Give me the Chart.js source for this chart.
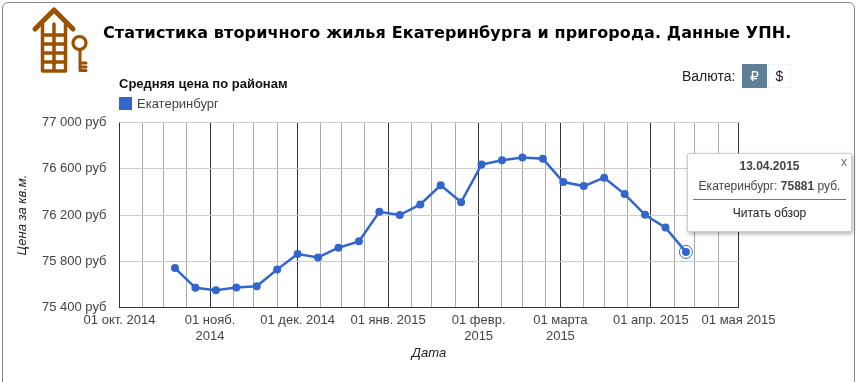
<!DOCTYPE html>
<html>
<head>
<meta charset="utf-8">
<title>Статистика вторичного жилья</title>
<script src="https://cdn.jsdelivr.net/npm/chart.js@4"></script>
<style>
  html, body { margin: 0; padding: 0; background: #fff; }
  body { width: 858px; height: 382px; overflow: hidden; position: relative; font-family: "Liberation Sans", Arial, sans-serif; }
  .frame { position: absolute; left: 2px; top: 2px; width: 851px; height: 420px; border: 1px solid #888; border-radius: 6px; }
  canvas { position: absolute; left: 0; top: 0; }
  .abs { position: absolute; white-space: nowrap; }
  #logo { left: 30px; top: 5px; }
  #mainTitle { left: 103px; top: 23px; font: bold 16px "DejaVu Sans", sans-serif; letter-spacing: .12px; color: #000; }
  #chartTitle { left: 119px; top: 76px; font: bold 13px "Liberation Sans", sans-serif; color: #111; }
  #legendBox { left: 119px; top: 97px; width: 13px; height: 13px; }
  #legendText { left: 137px; top: 96px; font: 13px "Liberation Sans", sans-serif; color: #444; }
  #currency { left: 682px; top: 68px; font: 14px "Liberation Sans", sans-serif; color: #222; }
  .btn { position: absolute; top: 64px; height: 24px; line-height: 24px; text-align: center; font-size: 14px; box-sizing: border-box; }
  #rub { left: 742px; width: 25px; background: #5f7f99; color: #fff; font-family: "DejaVu Sans", sans-serif; }
  #usd { left: 768px; width: 23px; border: 1px solid #eef5f8; line-height: 22px; color: #222; }
  #popup { left: 687px; top: 153px; width: 165px; height: 79px; background: #fff; border: 1px solid #ccc; box-sizing: border-box; border-radius: 2px; box-shadow: 1px 2px 4px rgba(0,0,0,.3); color: #444; font-size: 12px; text-align: center; }
  #popupDate { position: absolute; left: 0; right: 0; top: 5px; font-weight: bold; }
  #popupClose { position: absolute; right: 4px; top: 1px; color: #666; }
  #popupValue { position: absolute; left: 0; right: 0; top: 25px; }
  #popupLine { position: absolute; left: 5px; right: 5px; top: 45px; border-top: 1px solid #777; }
  #popupLink { position: absolute; left: 0; right: 0; top: 52px; color: #222; }
</style>
</head>
<body>
<div class="frame"></div>
<canvas id="priceChart" width="858" height="382"></canvas>

<svg id="logo" class="abs" width="62" height="72" viewBox="30 5 62 72">
  <g fill="none" stroke="#9c5100" stroke-linecap="round" stroke-linejoin="round">
    <path d="M35 29 L54 10 L73 29" stroke-width="5"/>
    <path d="M42.5 24 V71 H65.5 V24 M54 24 V71 M42.5 35 H65.5 M42.5 44 H65.5 M42.5 53 H65.5 M42.5 62 H65.5" stroke-width="3.5"/>
    <circle cx="79.5" cy="43" r="6.5" stroke-width="3.2"/>
    <path d="M80 50 V70 M80 63 H86 M80 67 H86 M80 70.5 H86" stroke-width="3"/>
  </g>
</svg>

<div id="mainTitle" class="abs">Статистика вторичного жилья Екатеринбурга и пригорода. Данные УПН.</div>
<div id="chartTitle" class="abs">Средняя цена по районам</div>
<div id="legendBox" class="abs"></div>
<div id="legendText" class="abs"></div>
<div id="currency" class="abs">Валюта:</div>
<div id="rub" class="btn">₽</div>
<div id="usd" class="btn">$</div>

<div id="popup" class="abs">
  <div id="popupDate"></div>
  <div id="popupClose">x</div>
  <div id="popupValue"></div>
  <div id="popupLine"></div>
  <div id="popupLink">Читать обзор</div>
</div>

<script>
const seriesName = "Екатеринбург";
const lineColor = "#3366cc";

const dates = [
  "2014-10-20", "2014-10-27", "2014-11-03", "2014-11-10", "2014-11-17", "2014-11-24",
  "2014-12-01", "2014-12-08", "2014-12-15", "2014-12-22", "2014-12-29", "2015-01-05",
  "2015-01-12", "2015-01-19", "2015-01-26", "2015-02-02", "2015-02-09", "2015-02-16",
  "2015-02-23", "2015-03-02", "2015-03-09", "2015-03-16", "2015-03-23", "2015-03-30",
  "2015-04-06", "2015-04-13"
];
const prices = [
  75741, 75570, 75549, 75572, 75584, 75729,
  75862, 75833, 75917, 75972, 76228, 76200,
  76291, 76457, 76311, 76636, 76674, 76697,
  76686, 76485, 76450, 76523, 76381, 76202,
  76091, 75881
];

// month ticks and their labels
const monthDates = ["2014-10-01", "2014-11-01", "2014-12-01", "2015-01-01", "2015-02-01", "2015-03-01", "2015-04-01", "2015-05-01"];
const monthLabels = [
  "01 окт. 2014", ["01 нояб.", "2014"], "01 дек. 2014", "01 янв. 2015",
  ["01 февр.", "2015"], ["01 марта", "2015"], "01 апр. 2015", "01 мая 2015"
];
const minorDays = ["09", "16", "24"];
const yTicks = [75400, 75800, 76200, 76600, 77000];

const toTime = (d) => Date.parse(d + "T00:00:00Z");
const monthTimes = monthDates.map(toTime);

// every month gets three lighter gridlines
const minorTimes = [];
monthDates.slice(0, -1).forEach((d) => {
  minorDays.forEach((day) => minorTimes.push(toTime(d.slice(0, 8) + day)));
});

const points = dates.map((d, i) => ({ x: toTime(d), y: prices[i] }));
const lastPoint = points[points.length - 1];

// html parts that come from the data
document.getElementById("legendBox").style.background = lineColor;
document.getElementById("legendText").textContent = seriesName;
document.getElementById("popupDate").textContent = dates[dates.length - 1].split("-").reverse().join(".");
document.getElementById("popupValue").innerHTML = `${seriesName}: <b>${lastPoint.y}</b> руб.`;

new Chart(document.getElementById("priceChart"), {
  type: "line",
  data: {
    datasets: [
      {
        label: seriesName,
        data: points,
        borderColor: lineColor,
        backgroundColor: lineColor,
        borderWidth: 2.5,
        pointRadius: 4,
        pointBorderWidth: 0,
        tension: 0
      },
      {
        label: "selected",
        data: [lastPoint],
        showLine: false,
        borderColor: lineColor,
        backgroundColor: "#fff",
        pointRadius: 6.5,
        pointBorderWidth: 1
      }
    ]
  },
  options: {
    responsive: false,
    animation: false,
    events: [],
    layout: { padding: { left: 0, top: 122.5, right: 119.5, bottom: 20.5 } },
    plugins: { legend: { display: false }, title: { display: false }, tooltip: { enabled: false } },
    scales: {
      x: {
        type: "linear",
        min: monthTimes[0],
        max: monthTimes[monthTimes.length - 1],
        afterBuildTicks: (scale) => {
          scale.ticks = monthTimes.concat(minorTimes).sort((a, b) => a - b).map((v) => ({ value: v }));
        },
        afterFit: (scale) => { scale.height = 54; },
        grid: {
          color: (ctx) => (monthTimes.includes(ctx.tick.value) ? "#333" : "#aaa"),
          lineWidth: 1,
          drawTicks: false
        },
        border: { display: false },
        ticks: {
          autoSkip: false,
          maxRotation: 0,
          padding: 4,
          color: "#444",
          font: { family: "Liberation Sans", size: 13, lineHeight: 1.3 },
          callback: (value) => {
            const idx = monthTimes.indexOf(value);
            return idx >= 0 ? monthLabels[idx] : "";
          }
        },
        title: {
          display: true,
          text: "Дата",
          color: "#222",
          padding: { top: 0, bottom: 0 },
          font: { family: "Liberation Sans", size: 13, style: "italic" }
        }
      },
      y: {
        min: yTicks[0],
        max: yTicks[yTicks.length - 1],
        afterBuildTicks: (scale) => { scale.ticks = yTicks.map((v) => ({ value: v })); },
        afterFit: (scale) => { scale.width = 119.5; },
        grid: {
          color: (ctx) => (ctx.tick.value === yTicks[0] ? "#333" : "#ccc"),
          lineWidth: 1,
          drawTicks: false
        },
        border: { display: false },
        ticks: {
          padding: 13,
          color: "#444",
          font: { family: "Liberation Sans", size: 13 },
          callback: (value) => `${String(value).replace(/(\d{2})(\d{3})/, "$1 $2")} руб`
        },
        title: {
          display: true,
          text: "Цена за кв.м.",
          color: "#222",
          padding: { top: 15, bottom: 0 },
          font: { family: "Liberation Sans", size: 13, style: "italic" }
        }
      }
    }
  }
});
</script>
</body>
</html>
